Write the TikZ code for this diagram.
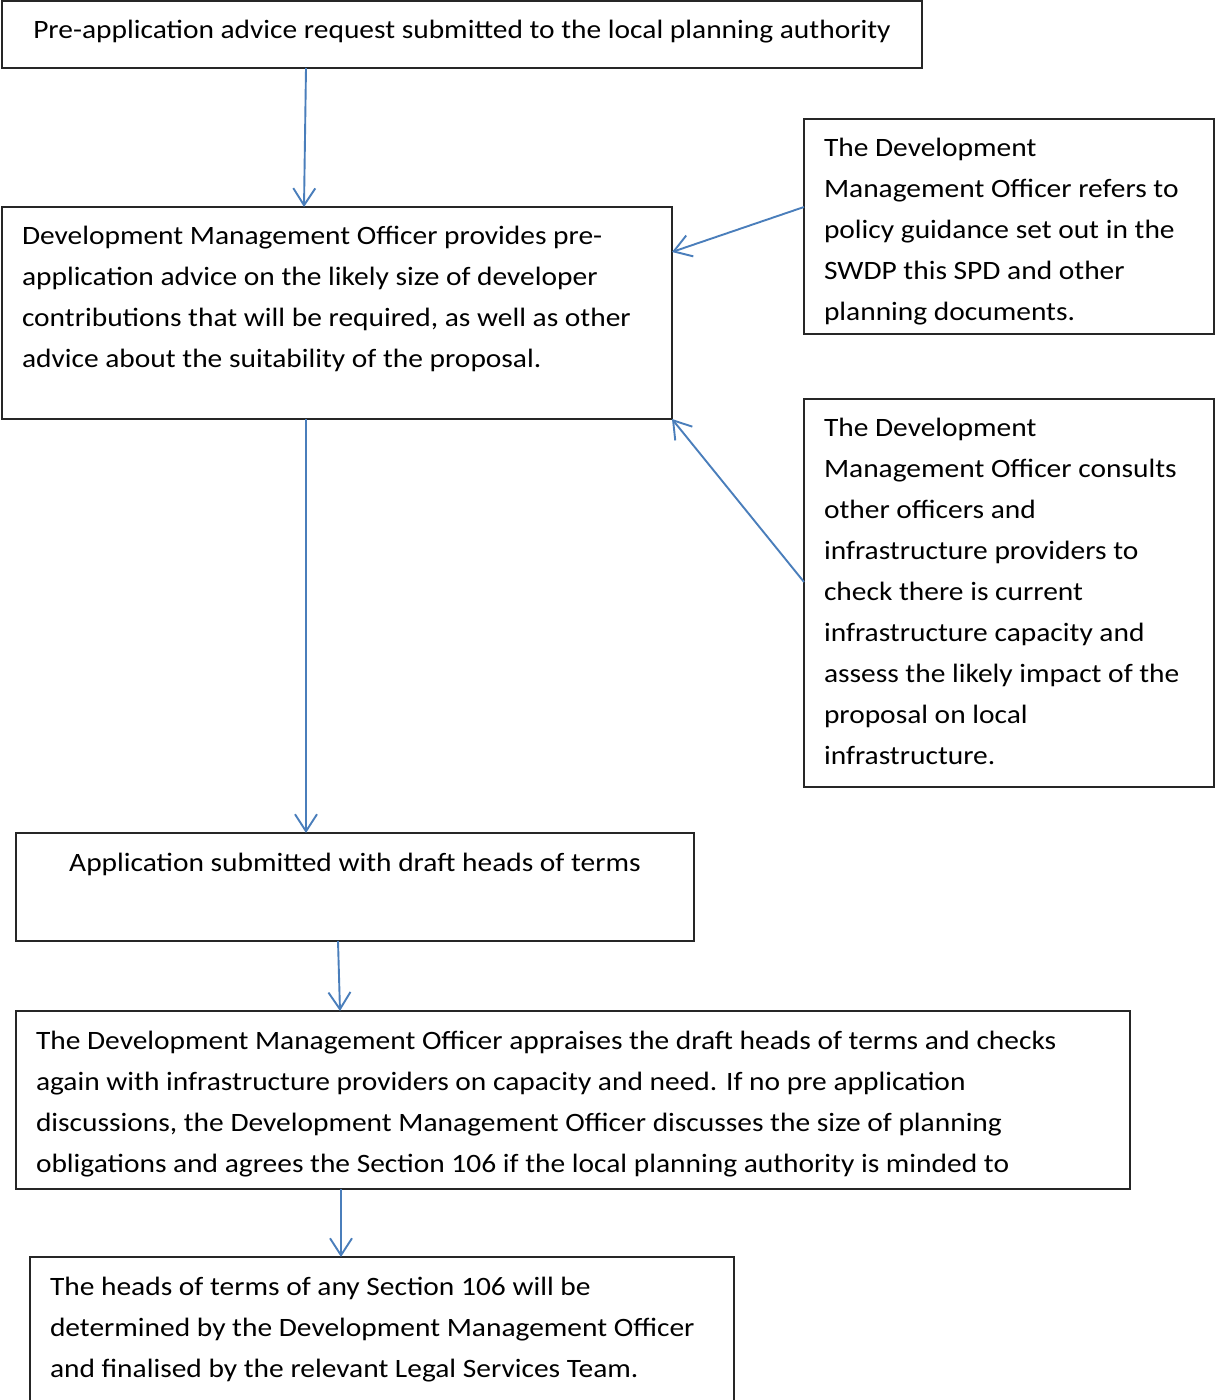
\documentclass[tikz,border=0pt]{standalone}
\usepackage{fontspec}
\setmainfont{Carlito}[FakeStretch=1.111]
\usetikzlibrary{arrows.meta}
\definecolor{arrblue}{RGB}{74,126,187}
\tikzset{
  box/.style={draw=black!85, line width=1.3pt, inner sep=0pt, outer sep=0pt, anchor=north west},
  txt/.style={inner sep=0pt, outer sep=0pt, align=left, anchor=north west, font=\fontsize{26.5}{41}\selectfont},
  ctxt/.style={inner sep=0pt, outer sep=0pt, anchor=base, font=\fontsize{26.5}{41}\selectfont},
  arr/.style={draw=arrblue, line width=1.9pt, -{Straight Barb[length=17pt,width=22pt,line width=1.9pt]}}
}
\newcommand{\fl}{\rule{0pt}{24pt}}
\begin{document}
\begin{tikzpicture}[x=1pt,y=-1pt]
\useasboundingbox (0,0) rectangle (1215,1400);
\clip (0,0) rectangle (1215,1400);
% boxes
\node[box, minimum width=920pt, minimum height=67pt] (b1) at (2,1) {};
\node[box, minimum width=670pt, minimum height=212pt] (b2) at (2,207) {};
\node[box, minimum width=410pt, minimum height=215pt] (r1) at (804,119) {};
\node[box, minimum width=410pt, minimum height=388pt] (r2) at (804,399) {};
\node[box, minimum width=678pt, minimum height=108pt] (b5) at (16,833) {};
\node[box, minimum width=1114pt, minimum height=178pt] (b6) at (16,1011) {};
\node[box, minimum width=704pt, minimum height=200pt] (b7) at (30,1257) {};
% texts
\node[ctxt] (t1) at (462,38) {Pre-application advice request submitted to the local planning authority};
\node[txt] (t2) at (22,220) {\fl Development Management Officer provides pre-\\application advice on the likely size of developer\\contributions that will be required, as well as other\\advice about the suitability of the proposal.};
\node[txt] (t3) at (824,132) {\fl The Development\\Management Officer refers to\\policy guidance set out in the\\SWDP this SPD and other\\planning documents.};
\node[txt] (t4) at (824,412) {\fl The Development\\Management Officer consults\\other officers and\\infrastructure providers to\\check there is current\\infrastructure capacity and\\assess the likely impact of the\\proposal on local\\infrastructure.};
\node[ctxt] (t5) at (355,871) {Application submitted with draft heads of terms};
\node[txt] (t6) at (36,1025) {\fl The Development Management Officer appraises the draft heads of terms and checks\\again with infrastructure providers on capacity and need. If no pre application\\discussions, the Development Management Officer discusses the size of planning\\obligations and agrees the Section 106 if the local planning authority is minded to};
\node[txt] (t7) at (50,1271) {\fl The heads of terms of any Section 106 will be\\determined by the Development Management Officer\\and finalised by the relevant Legal Services Team.};
% arrows
\draw[arr] ([xshift=304pt]b1.south west) -- ([xshift=302pt]b2.north west);
\draw[arr] ([yshift=-88pt]r1.north west) -- ([yshift=-45pt]b2.north east);
\draw[arr] ([yshift=-183pt]r2.north west) -- (b2.south east);
\draw[arr] ([xshift=304pt]b2.south west) -- ([xshift=290pt]b5.north west);
\draw[arr] ([xshift=322pt]b5.south west) -- ([xshift=324pt]b6.north west);
\draw[arr] ([xshift=325pt]b6.south west) -- ([xshift=311pt]b7.north west);
\end{tikzpicture}
\end{document}
